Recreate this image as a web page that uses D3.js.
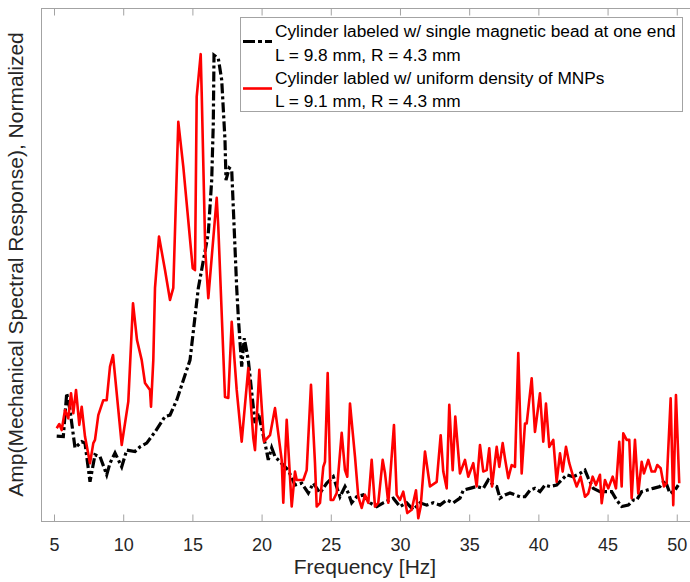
<!DOCTYPE html>
<html>
<head>
<meta charset="utf-8">
<script src="https://cdn.jsdelivr.net/npm/d3@7"></script>
<style>
  body { margin: 0; background: #fff; }
  #chart text { font-family: "Liberation Sans", Arial, sans-serif; }
</style>
</head>
<body>
<div id="chart"></div>
<script>
// frequency [Hz] and normalized amplitude
var beadFreq = [5.195,5.672,5.918,6.156,6.517,7.001,7.240,7.601,7.962,8.324,8.808,9.046,9.408,9.892,10.253,10.853,11.214,11.698,12.298,13.020,13.382,13.866,14.588,14.827,15.426,16.149,16.395,16.510,16.561,16.871,17.117,17.355,17.428,17.666,17.840,18.201,18.316,18.562,18.750,19.039,19.523,19.762,20.246,20.484,20.730,20.968,21.929,22.413,22.897,23.374,23.736,24.220,24.704,25.181,25.665,26.026,26.264,26.510,26.871,27.348,27.832,28.316,28.793,29.516,30.000,30.484,30.961,31.445,31.929,32.406,32.890,33.374,33.851,34.335,34.574,35.058,35.542,36.019,36.380,36.742,36.988,37.225,37.587,37.948,38.309,38.671,39.032,39.393,39.754,40.116,40.477,40.838,41.322,41.683,42.045,42.522,43.006,43.367,43.605,43.967,44.451,44.935,45.296,45.657,46.019,46.496,46.857,47.103,47.464,47.825,48.302,48.786,49.147,49.509,49.870,50.108];
var beadAmp = [0.182,0.181,0.274,0.238,0.157,0.170,0.167,0.084,0.142,0.138,0.099,0.124,0.146,0.116,0.152,0.149,0.159,0.167,0.191,0.224,0.227,0.259,0.324,0.345,0.499,0.617,0.731,0.853,0.999,0.992,0.946,0.817,0.731,0.757,0.753,0.500,0.438,0.331,0.392,0.345,0.210,0.232,0.167,0.131,0.157,0.138,0.109,0.077,0.081,0.060,0.081,0.060,0.081,0.095,0.052,0.074,0.060,0.039,0.052,0.056,0.039,0.031,0.039,0.049,0.031,0.039,0.024,0.039,0.034,0.039,0.034,0.045,0.039,0.049,0.066,0.070,0.074,0.070,0.088,0.077,0.074,0.049,0.056,0.060,0.056,0.052,0.052,0.066,0.070,0.063,0.077,0.074,0.077,0.088,0.099,0.095,0.102,0.109,0.092,0.070,0.063,0.063,0.063,0.045,0.031,0.034,0.045,0.045,0.063,0.066,0.070,0.074,0.088,0.059,0.066,0.077];

var mnpFreq = [5.195,5.383,5.556,5.795,6.033,6.228,6.395,6.590,6.828,7.001,7.240,7.601,7.840,7.962,8.201,8.562,8.808,9.046,9.263,9.892,10.368,10.708,10.997,11.337,11.575,11.936,12.009,12.175,12.298,12.587,13.020,13.382,13.620,13.981,14.342,15.022,15.188,15.311,15.600,15.672,15.930,16.149,16.756,16.871,17.355,17.594,17.840,18.201,18.562,19.039,19.400,19.523,19.834,20.173,20.607,20.968,21.452,21.568,21.814,22.175,22.413,22.536,23.013,23.259,23.569,23.858,23.981,24.220,24.458,24.581,24.776,24.993,25.181,25.426,25.788,26.026,26.192,26.387,26.749,26.987,27.233,27.471,27.710,27.955,28.194,28.432,28.750,28.916,29.155,29.566,29.762,30.000,30.238,30.527,30.845,31.156,31.322,31.496,31.806,32.168,32.652,32.941,33.129,33.374,33.562,33.808,33.996,34.335,34.697,34.935,35.296,35.542,35.780,36.019,36.265,36.452,36.650,36.988,37.176,37.421,37.587,37.825,38.071,38.309,38.548,38.793,39.032,39.155,39.516,39.754,40.116,40.354,40.549,40.788,41.077,41.322,41.561,41.756,41.994,42.233,42.479,42.768,43.056,43.367,43.605,43.923,44.162,44.451,44.574,44.812,45.051,45.369,45.607,45.846,46.019,46.135,46.380,46.568,46.742,46.980,47.218,47.464,47.630,47.941,48.186,48.425,48.591,48.837,49.075,49.270,49.559,49.747,49.942,50.181];
var mnpAmp = [0.199,0.208,0.195,0.238,0.220,0.274,0.231,0.281,0.206,0.245,0.181,0.124,0.167,0.174,0.227,0.259,0.259,0.331,0.356,0.163,0.256,0.467,0.388,0.345,0.296,0.281,0.245,0.345,0.500,0.610,0.538,0.474,0.500,0.856,0.760,0.542,0.538,0.910,1.001,0.918,0.580,0.478,0.693,0.631,0.266,0.264,0.427,0.281,0.170,0.328,0.178,0.152,0.324,0.170,0.184,0.242,0.131,0.039,0.217,0.031,0.106,0.088,0.088,0.109,0.292,0.124,0.031,0.039,0.116,0.127,0.317,0.045,0.045,0.060,0.189,0.109,0.095,0.252,0.138,0.052,0.028,0.056,0.039,0.131,0.031,0.039,0.131,0.103,0.039,0.206,0.056,0.045,0.063,0.017,0.024,0.066,0.006,0.031,0.149,0.074,0.084,0.184,0.106,0.070,0.249,0.109,0.224,0.102,0.131,0.095,0.124,0.074,0.163,0.106,0.109,0.156,0.074,0.159,0.116,0.167,0.134,0.092,0.120,0.116,0.360,0.102,0.209,0.209,0.306,0.191,0.274,0.170,0.252,0.159,0.174,0.084,0.145,0.106,0.159,0.124,0.099,0.074,0.095,0.052,0.059,0.095,0.077,0.099,0.038,0.088,0.070,0.095,0.070,0.170,0.074,0.188,0.174,0.174,0.049,0.174,0.059,0.127,0.102,0.131,0.106,0.106,0.120,0.113,0.074,0.081,0.263,0.034,0.270,0.081];

var xTicks = [5,10,15,20,25,30,35,40,45,50];
var legendLines = [
  ["Cylinder labeled w/ single magnetic bead at one end", "L = 9.8 mm, R = 4.3 mm"],
  ["Cylinder labled w/ uniform density of MNPs", "L = 9.1 mm, R = 4.3 mm"]
];

function main() {
    var width = 690,
      height = 582,
      left = 41, top = 8, bottom = 521;

    var axisColor = "#a3a3a3",
      textColor = "#262626";

    var x = d3.scaleLinear().domain([4.06, 51]).range([left, 690.6]);
    var y = d3.scaleLinear().domain([0, 1.1]).range([bottom, top]);

    var svg = d3.select("#chart").append("svg").attr("width", width).attr("height", height);
    svg.append("rect").attr("width", width).attr("height", height).attr("fill", "#fff");

    // axes box
    svg.append("rect")
      .attr("x", left + 0.5).attr("y", top + 0.5)
      .attr("width", x.range()[1] - left).attr("height", bottom - top)
      .attr("fill", "none").attr("stroke", axisColor).attr("stroke-width", 1);

    var xAxis = d3.axisBottom(x).tickValues(xTicks).tickSizeInner(-7).tickSizeOuter(0).tickPadding(17);
    var gx = svg.append("g").attr("transform", "translate(0," + (bottom + 0.5) + ")").call(xAxis);
    gx.select(".domain").remove();
    gx.selectAll(".tick line").attr("stroke", axisColor);
    gx.selectAll(".tick text").attr("fill", textColor).style("font-size", "18px");

    var xTop = d3.axisTop(x).tickValues(xTicks).tickSizeInner(-7).tickSizeOuter(0).tickFormat("");
    var gt = svg.append("g").attr("transform", "translate(0," + (top + 0.5) + ")").call(xTop);
    gt.select(".domain").remove();
    gt.selectAll(".tick line").attr("stroke", axisColor);

    svg.append("text")
      .attr("x", 365).attr("y", 574)
      .attr("text-anchor", "middle").attr("fill", textColor)
      .style("font-size", "21px")
      .text("Frequency [Hz]");

    svg.append("text")
      .attr("transform", "translate(23," + ((top + bottom) / 2) + ") rotate(-90)")
      .attr("text-anchor", "middle").attr("fill", textColor)
      .style("font-size", "21px")
      .text("Amp(Mechanical Spectral Response), Normalized");

    var line = d3.line()
      .x(function(d) { return x(d[0]); })
      .y(function(d) { return y(d[1]); });

    var g = svg.append("g");

    g.append("path")
      .datum(d3.zip(beadFreq, beadAmp))
      .attr("d", line)
      .attr("fill", "none").attr("stroke", "#000")
      .attr("stroke-width", 3.2).attr("stroke-dasharray", "10,3,3,3");

    g.append("path")
      .datum(d3.zip(mnpFreq, mnpAmp))
      .attr("d", line)
      .attr("fill", "none").attr("stroke", "#ff0000")
      .attr("stroke-width", 2.6).attr("stroke-linejoin", "round");

    // legend
    var lg = svg.append("g").attr("class", "legend");
    lg.append("rect")
      .attr("x", 240.5).attr("y", 17.5).attr("width", 442).attr("height", 94)
      .attr("fill", "#fff").attr("stroke", axisColor);

    var styles = [
      {stroke: "#000", width: 3, dash: "12,3,4,3", cy: 41.5},
      {stroke: "#ff0000", width: 2.6, dash: null, cy: 88.5}
    ];
    legendLines.forEach(function(entry, i) {
        lg.append("line")
          .attr("x1", 243).attr("x2", 272)
          .attr("y1", styles[i].cy).attr("y2", styles[i].cy)
          .attr("stroke", styles[i].stroke).attr("stroke-width", styles[i].width)
          .attr("stroke-dasharray", styles[i].dash);
        entry.forEach(function(txt, j) {
            lg.append("text")
              .attr("x", 275).attr("y", 37 + i * 46.5 + j * 23.5)
              .attr("fill", "#000")
              .style("font-size", "17.3px")
              .text(txt);
        });
    });
}

main();
</script>
</body>
</html>
